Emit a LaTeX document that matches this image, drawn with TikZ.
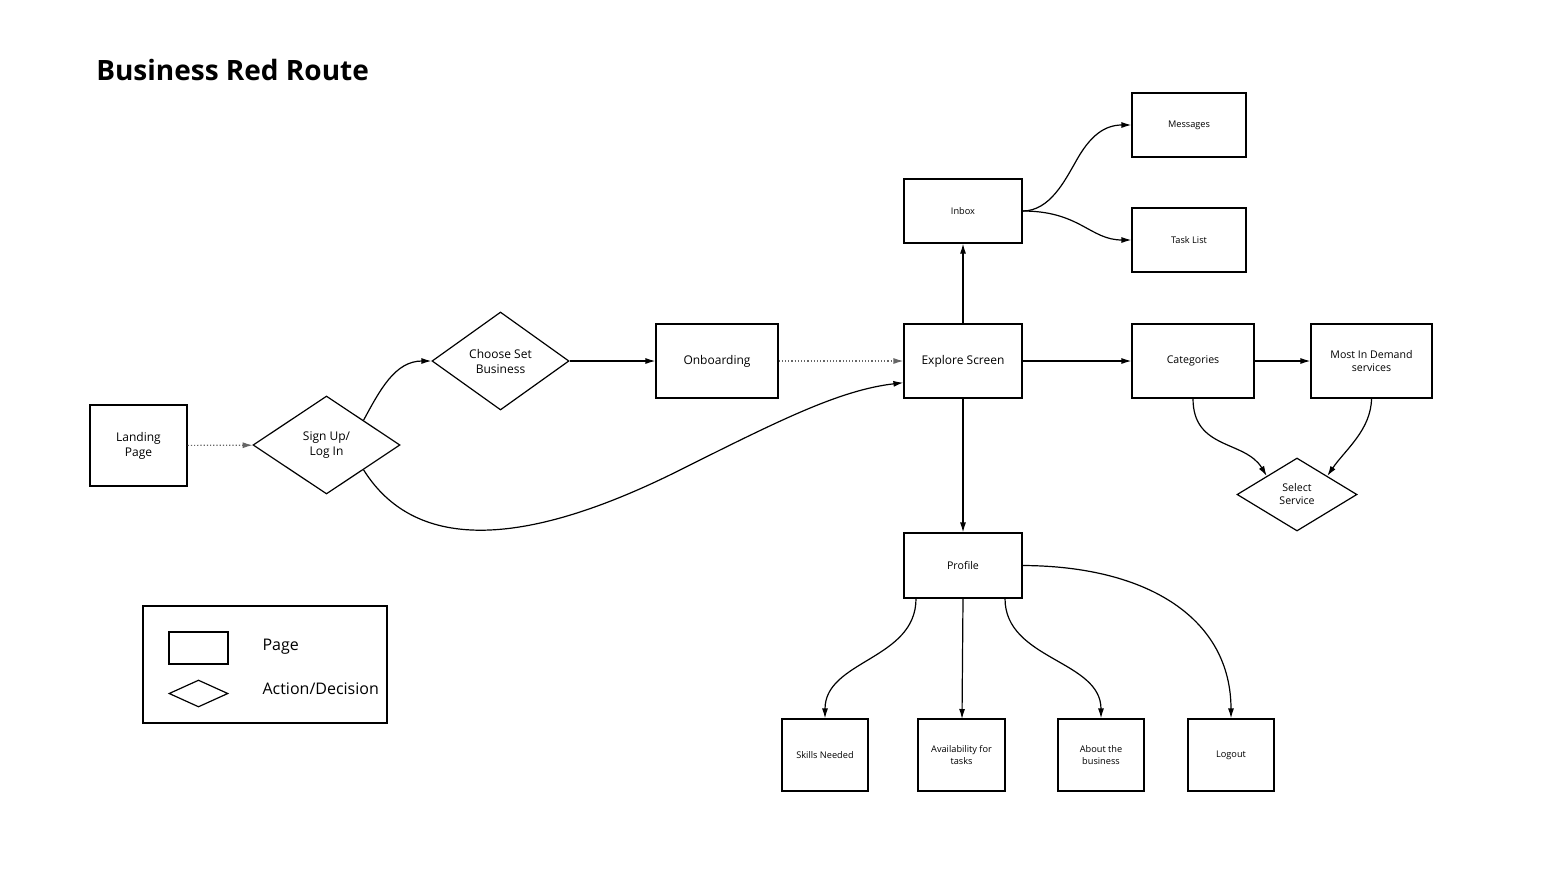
\documentclass[tikz,border=0pt]{standalone}
\usepackage{fontspec}
\setmainfont{Open Sans}
\usetikzlibrary{shapes.geometric,arrows.meta}
\begin{document}
\begin{tikzpicture}[x=0.5pt,y=-0.5pt,
  line width=0.6pt,
  box/.style={draw,rectangle,inner sep=1pt,align=center,font=\fontsize{6}{7.5}\selectfont},
  sbox/.style={box,font=\fontsize{4.6}{6}\selectfont},
  dia/.style={draw,diamond,inner sep=0pt,align=center,font=\fontsize{6}{7.5}\selectfont},
  arr/.style={-{Latex[length=5pt,width=3pt]}},
  dot/.style={arr,densely dotted,draw=black!60}]
\useasboundingbox (0,0) rectangle (1546,884);
\fill[white] (0,0) rectangle (1546,884);
\node[anchor=base west,font=\fontsize{14}{16}\selectfont\bfseries] (title) at (89,80) {Business Red Route};

\node[box,minimum width=48.5pt,minimum height=40.5pt] (land) at (138.5,445.5) {Landing\\Page};
\node[dia,minimum width=73.5pt,minimum height=49pt] (sign) at (326.5,445) {Sign Up/\\Log In};
\node[dia,minimum width=68.5pt,minimum height=49pt] (choose) at (500.5,361) {Choose Set\\Business};
\node[box,minimum width=61pt,minimum height=37pt] (onb) at (717,361) {Onboarding};
\node[box,minimum width=59pt,minimum height=37pt] (exp) at (963,361) {Explore Screen};
\node[sbox,minimum width=59pt,minimum height=32pt] (inbox) at (963,211) {Inbox};
\node[sbox,minimum width=57pt,minimum height=32pt] (msg) at (1189,125) {Messages};
\node[sbox,minimum width=57pt,minimum height=32pt] (task) at (1189,240) {Task List};
\node[box,font=\fontsize{5.3}{6.5}\selectfont,minimum width=61pt,minimum height=37pt] (cat) at (1193,361) {Categories};
\node[box,font=\fontsize{5.3}{6.5}\selectfont,minimum width=60.5pt,minimum height=37pt] (most) at (1371.5,361) {Most In Demand\\services};
\node[dia,font=\fontsize{5.3}{6.5}\selectfont,minimum width=60pt,minimum height=36.5pt] (sel) at (1297,494.5) {Select\\Service};
\node[box,font=\fontsize{5.3}{6.5}\selectfont,minimum width=59pt,minimum height=32.5pt] (prof) at (963,565.5) {Profile};
\node[sbox,minimum width=43pt,minimum height=36pt] (skills) at (825,755) {Skills Needed};
\node[sbox,minimum width=43.5pt,minimum height=36pt] (avail) at (961.5,755) {Availability for\\tasks};
\node[sbox,minimum width=43pt,minimum height=36pt] (about) at (1101,755) {About the\\business};
\node[sbox,minimum width=43pt,minimum height=36pt] (logout) at (1231,755) {Logout};

\draw[dot] (land) -- (sign);
\draw[arr] (sign.north east) .. controls (380,390) and (395,361) .. (choose.west);
\draw[arr] (sign.south east) .. controls (420,560) and (540,540) .. (680,470) .. controls (780,420) and (840,390) .. (exp.200);
\draw[arr] (choose) -- (onb);
\draw[dot] (onb) -- (exp);
\draw[arr] (exp) -- (inbox);
\draw[arr] (inbox.east) .. controls (1050,211) and (1065,180) .. (1075,163) .. controls (1090,135) and (1105,125) .. (msg.west);
\draw[arr] (inbox.east) .. controls (1080,211) and (1090,240) .. (task.west);
\draw[arr] (exp) -- (cat);
\draw[arr] (cat) -- (most);
\draw[arr] (cat.south) .. controls (1193,450) and (1245,440) .. (sel.north west);
\draw[arr] (most.south) .. controls (1371,430) and (1345,450) .. (sel.north east);
\draw[arr] (exp) -- (prof);
\draw[arr] (916,598.5) .. controls (916,660) and (825,660) .. (skills.north);
\draw[arr] (963,598.5) -- (962,719);
\draw[arr] (1005,598.5) .. controls (1005,660) and (1101,660) .. (about.north);
\draw[arr] (prof.east) .. controls (1150,566) and (1231,620) .. (logout.north);

\node[draw,minimum width=122pt,minimum height=58.5pt] (legend) at (265,664.5) {};
\node[draw,minimum width=29.5pt,minimum height=16pt] (lpage) at (198.5,648) {};
\node[draw,diamond,inner sep=0pt,minimum width=29.5pt,minimum height=13.5pt] (ldia) at (198.5,693.5) {};
\node[anchor=west,font=\fontsize{8}{9}\selectfont,inner sep=0pt] (lt1) at (262,647) {Page};
\node[anchor=west,font=\fontsize{8}{9}\selectfont,inner sep=0pt] (lt2) at (262,689) {Action/Decision};
\end{tikzpicture}
\end{document}
